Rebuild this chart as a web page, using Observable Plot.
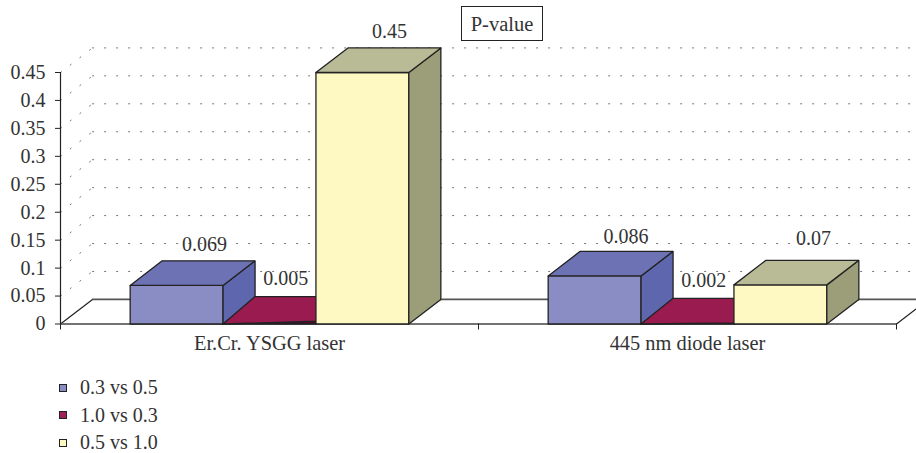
<!DOCTYPE html>
<html><head><meta charset="utf-8">
<script src="https://cdn.jsdelivr.net/npm/d3@7"></script>
<script src="https://cdn.jsdelivr.net/npm/@observablehq/plot@0.6"></script>
<style>
html,body{margin:0;padding:0;background:#fff;overflow:hidden}
#wrap{position:relative;width:916px;height:453px;font-family:"Liberation Serif",serif;color:#333}
#title{position:absolute;left:461px;top:6px;width:80px;height:33px;border:1.3px solid #222;text-align:center;line-height:34px;font-size:20.5px;box-sizing:content-box}
#legend{position:absolute;left:59px;top:374px;font-size:20px}
#legend div{height:27.5px;line-height:27px;display:flex;align-items:center}
#legend i{display:inline-block;width:6px;height:6px;border:1.5px solid #222;margin-right:13px}
</style></head><body>
<div id="wrap"><div id="title"></div><div id="chart"></div><div id="legend"></div></div>
<script>
const chartTitle = "P-value";
const categories = ["Er.Cr. YSGG laser", "445 nm diode laser"];
const seriesNames = ["0.3 vs 0.5", "1.0 vs 0.3", "0.5 vs 1.0"];
const series1 = [0.069, 0.086];
const series2 = [0.005, 0.002];
const series3 = [0.45, 0.07];
const yTicks = [0, 0.05, 0.1, 0.15, 0.2, 0.25, 0.3, 0.35, 0.4, 0.45];
const palette = [
  {front:"#8a8dc4", top:"#6c72b4", side:"#5e66ae", swatch:"#8a8dc4"},
  {front:"#4a0a30", top:"#9a1b50", side:"#6d1038", swatch:"#a0205a"},
  {front:"#fef8c2", top:"#b9bb97", side:"#9b9e78", swatch:"#fef8c2"}
];
const values = [series1, series2, series3];

// chart depth & bar width, in scale units
const DX = 0.0766, DY = 0.044, BAR = 2 / 9;
const barLeft = (c, s) => c + 0.5 + (s - 1.5) * BAR;

function faces(c, s) {
  const v = values[s][c], x0 = barLeft(c, s), x1 = x0 + BAR, p = palette[s], id = `${c}-${s}`;
  const poly = (name, fill, pts) => pts.concat([pts[0]]).map(([x, y]) => ({id: id + name, fill, x, y}));
  // the flat middle bar is rendered with its front-left top corner pinned to the baseline
  const flat = s === 1;
  const corner = flat ? 0 : v;
  return [
    ...poly("f", p.front, flat ? [[x0,0],[x1,0],[x1,v]] : [[x0,0],[x1,0],[x1,v],[x0,v]]),
    ...poly("s", p.side, [[x1,0],[x1+DX,DY],[x1+DX,v+DY],[x1,v]]),
    ...poly("t", p.top, [[x0,corner],[x1,v],[x1+DX,v+DY],[x0+DX,v+DY]])
  ];
}
const bars = [0,1].flatMap(c => [0,1,2].flatMap(s => faces(c, s)));

const floor = [[0,0],[DX,DY],[2+DX,DY],[2,0]].map(([x,y]) => ({x,y}));
const gridTicks = yTicks.slice(1);
const gridBack = gridTicks.flatMap(t => [{t,x:DX,y:t+DY},{t,x:2+DX,y:t+DY}]);
const gridSide = gridTicks.flatMap(t => [{t,x:0,y:t},{t,x:DX,y:t+DY}]);

// label nudges (x, y in scale units) relative to the bar's centre and back-top edge
const labelNudge = [
  [[0.067,0.002],[0.039,0.0046],[0.065,0.002]],
  [[0.075,-0.0006],[0.039,0.005],[0.079,0.011]]
];
const labels = [0,1].flatMap(c => [0,1,2].map(s => {
  const n = labelNudge[c][s];
  return {x: barLeft(c,s) + BAR/2 + n[0], y: values[s][c] + DY + 0.027 + n[1], text: String(values[s][c])};
}));

const W = 916, H = 362;
const chart = Plot.plot({
  width: W, height: H,
  marginLeft: 60, marginRight: 20, marginTop: 72, marginBottom: 38.5,
  x: {type:"linear", domain:[0,2]},
  y: {domain:[0,0.45]},
  style: {fontFamily:'"Liberation Serif",serif', fontSize:"20px", color:"#333", background:"transparent"},
  marks: [
    Plot.line(floor.slice(0,2), {x:"x", y:"y", stroke:"#222", strokeWidth:1.2}),
    Plot.line(floor.slice(1,3), {x:"x", y:"y", stroke:"#555", strokeWidth:1.6}),
    Plot.line(floor.slice(2,4), {x:"x", y:"y", stroke:"#222", strokeWidth:1.2}),
    Plot.line(gridBack, {x:"x", y:"y", z:"t", stroke:"#777", strokeWidth:1, strokeDasharray:"1.2 10.8"}),
    Plot.line(gridSide, {x:"x", y:"y", z:"t", stroke:"#777", strokeWidth:1, strokeDasharray:"1.2 11"}),
    Plot.ruleY([0], {stroke:"#444", strokeWidth:1.4}),
    Plot.line(bars, {x:"x", y:"y", z:"id", fill:"fill", stroke:"#222", strokeWidth:1.3, strokeLinejoin:"miter"}),
    Plot.ruleX([0], {y1:0, y2:0.45, stroke:"#222", strokeWidth:1.2}),
    Plot.axisY({ticks:yTicks, tickFormat:d=>String(d), tickSize:5, tickPadding:10, label:null, stroke:"#222", fontSize:20, marginLeft:60}),
    Plot.axisX({ticks:[0,1,2], tickFormat:()=>"", tickSize:6, label:null, stroke:"#222"}),
    Plot.axisX({ticks:[0.5,1.5], tickFormat:(d,i)=>categories[i], tickSize:0, tickPadding:12, label:null, fontSize:20.4}),
    Plot.text(labels, {x:"x", y:"y", text:"text", fill:"#333", fontSize:20})
  ]
});
document.getElementById("chart").appendChild(chart);
document.getElementById("title").textContent = chartTitle;
const lg = document.getElementById("legend");
seriesNames.forEach((n,i) => {
  const d = document.createElement("div");
  const sw = document.createElement("i");
  sw.style.background = palette[i].swatch;
  d.appendChild(sw);
  d.appendChild(document.createTextNode(n));
  lg.appendChild(d);
});
</script>
</body></html>
